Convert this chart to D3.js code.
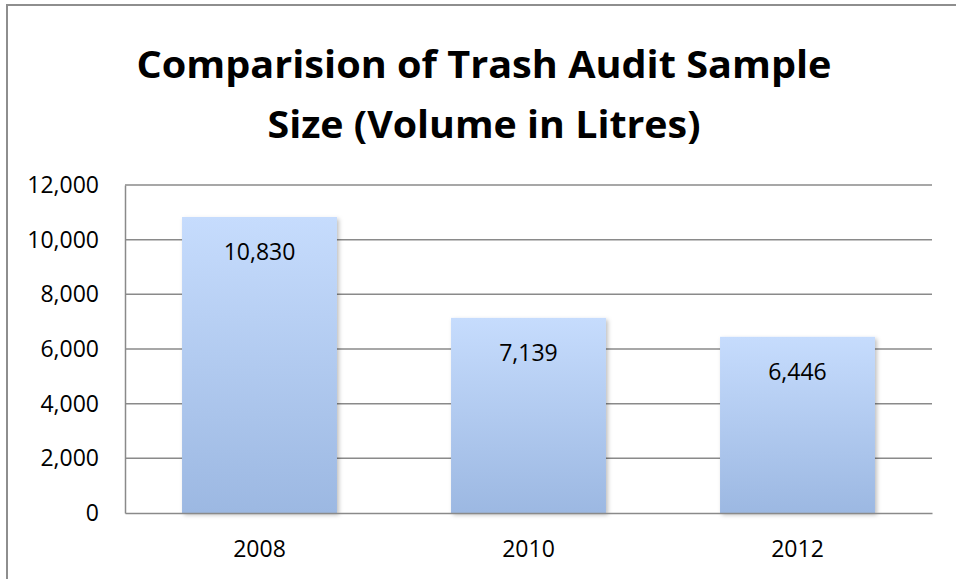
<!DOCTYPE html>
<html>
<head>
<meta charset="utf-8">
<script src="https://cdn.jsdelivr.net/npm/d3@7"></script>
<style>
	body { margin: 0; background: #fff; }
	svg { display: block; font-family: "Open Sans", sans-serif; }
</style>
</head>
<body>
<div id="chart"></div>
<script>
var years = ["2008", "2010", "2012"];
var volumes = [10830, 7139, 6446];
var yTicks = [0, 2000, 4000, 6000, 8000, 10000, 12000];
var titleLines = ["Comparision of Trash Audit Sample", "Size (Volume in Litres)"];

var width = 956,
	height = 579,
	margin = {top: 185, right: 24, bottom: 66, left: 125};

var svg = d3.select("#chart").append("svg")
	.attr("width", width)
	.attr("height", height);

var defs = svg.append("defs");
var grad = defs.append("linearGradient")
	.attr("id", "barFill")
	.attr("x1", 0).attr("y1", 0).attr("x2", 0).attr("y2", 1);
grad.append("stop").attr("offset", "0%").attr("stop-color", "#c6dcfd");
grad.append("stop").attr("offset", "100%").attr("stop-color", "#9cb8e2");

var shadow = defs.append("filter")
	.attr("id", "barShadow")
	.attr("x", "-10%").attr("y", "-10%").attr("width", "130%").attr("height", "130%");
shadow.append("feDropShadow")
	.attr("dx", 2).attr("dy", 2)
	.attr("stdDeviation", 2)
	.attr("flood-color", "#000")
	.attr("flood-opacity", 0.25);

// outer chart border (cut off at right and bottom)
svg.append("rect")
	.attr("x", 7).attr("y", 5)
	.attr("width", width + 20).attr("height", height + 20)
	.attr("fill", "none")
	.attr("stroke", "#8e8e8e")
	.attr("stroke-width", 2);

var x = d3.scaleBand()
	.domain(years)
	.range([margin.left, width - margin.right])
	.paddingInner(0.424)
	.paddingOuter(0.212);

var y = d3.scaleLinear()
	.domain([0, 12000])
	.range([height - margin.bottom, margin.top]);

var fmt = d3.format(",");

// gridlines
svg.append("g")
	.selectAll("line")
	.data(yTicks.filter(function(d) { return d > 0; }))
	.enter().append("line")
	.attr("x1", margin.left).attr("x2", width - margin.right)
	.attr("y1", function(d) { return y(d); })
	.attr("y2", function(d) { return y(d); })
	.attr("stroke", "#8a8a8a")
	.attr("stroke-width", 1.5);

// y axis
var yAxis = svg.append("g")
	.attr("transform", "translate(" + margin.left + ",0)")
	.call(d3.axisLeft(y).tickValues(yTicks).tickFormat(fmt).tickSize(0).tickPadding(26));
yAxis.select(".domain").attr("stroke", "#8a8a8a").attr("stroke-width", 1.5);
yAxis.selectAll("text")
	.attr("font-size", "23px")
	.attr("fill", "#000")
	.attr("font-family", "Open Sans, sans-serif");

// bars
var bar = svg.append("g")
	.selectAll("g")
	.data(volumes)
	.enter().append("g");

bar.append("rect")
	.attr("x", function(d, i) { return x(years[i]); })
	.attr("y", function(d) { return y(d); })
	.attr("width", x.bandwidth())
	.attr("height", function(d) { return y(0) - y(d); })
	.attr("fill", "url(#barFill)")
	.attr("filter", "url(#barShadow)");

bar.append("text")
	.attr("x", function(d, i) { return x(years[i]) + x.bandwidth() / 2; })
	.attr("y", function(d) { return y(d) + 43; })
	.attr("text-anchor", "middle")
	.attr("font-size", "23px")
	.attr("fill", "#000")
	.text(function(d) { return fmt(d); });

// x axis
var xAxis = svg.append("g")
	.attr("transform", "translate(0," + y(0) + ")")
	.call(d3.axisBottom(x).tickSize(0).tickPadding(28));
xAxis.select(".domain").attr("stroke", "#8a8a8a").attr("stroke-width", 1.5);
xAxis.selectAll("text")
	.attr("font-size", "23px")
	.attr("fill", "#000")
	.attr("font-family", "Open Sans, sans-serif");

// title (Calibri-like proportions: squeeze a taller font to the original width)
var titleWidths = [695, 433];
svg.append("g")
	.selectAll("text")
	.data(titleLines)
	.enter().append("text")
	.attr("x", 484)
	.attr("y", function(d, i) { return 78 + i * 60; })
	.attr("text-anchor", "middle")
	.attr("font-weight", "bold")
	.attr("font-size", "37px")
	.attr("fill", "#000")
	.attr("textLength", function(d, i) { return titleWidths[i]; })
	.attr("lengthAdjust", "spacingAndGlyphs")
	.text(function(d) { return d; });
</script>
</body>
</html>
